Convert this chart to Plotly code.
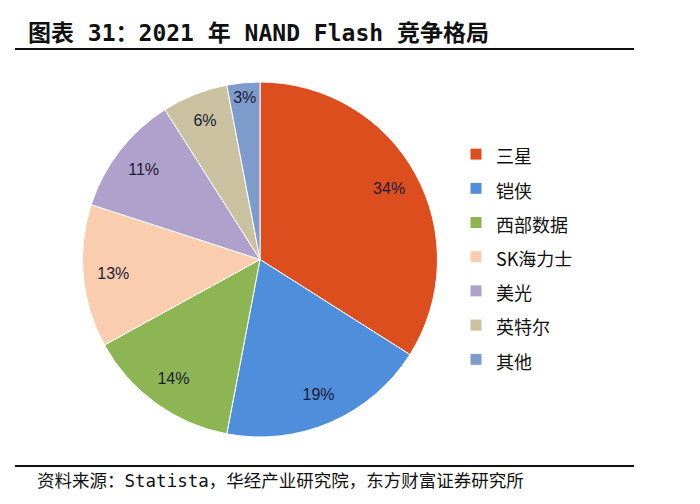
import plotly.graph_objects as go

labels = ["三星", "铠侠", "西部数据", "SK海力士", "美光", "英特尔", "其他"]
values = [34, 19, 14, 13, 11, 6, 3]
colors = ["#DD4E1E", "#4F8EDB", "#8DB554", "#F9CDAE", "#B0A1CC", "#C9C19F", "#7D9CCB"]

title_text = "图表 31：2021 年 NAND Flash 竞争格局"
source_text = "资料来源：Statista，华经产业研究院，东方财富证券研究所"

W, H = 700, 504
pie_domain = dict(x=[82 / W, 438 / W], y=[1 - 437 / H, 1 - 82 / H])

# legend labels: smaller visible text inside a taller legend line
legend_labels = ["<span style='font-size:18px'>%s</span>" % s for s in labels]

fig = go.Figure()
# coloured slices + legend
fig.add_trace(go.Pie(
    labels=legend_labels,
    values=values,
    sort=False,
    direction="clockwise",
    rotation=0,
    marker=dict(colors=colors, line=dict(color="white", width=1)),
    textinfo="none",
    domain=pie_domain,
    hoverinfo="label+percent",
))
# transparent ring carrying the percentage labels near the rim
fig.add_trace(go.Pie(
    labels=labels,
    values=values,
    sort=False,
    direction="clockwise",
    rotation=0,
    hole=0.66,
    marker=dict(colors=["rgba(0,0,0,0)"] * len(values), line=dict(width=0)),
    texttemplate="%{value}%",
    textposition="inside",
    insidetextorientation="horizontal",
    textfont=dict(family="Liberation Sans, Arial", size=16, color="#1B1B35"),
    domain=pie_domain,
    showlegend=False,
    hoverinfo="skip",
))

fig.update_layout(
    width=W, height=H,
    margin=dict(l=0, r=0, t=0, b=0),
    paper_bgcolor="white",
    plot_bgcolor="white",
    showlegend=True,
    uniformtext=dict(minsize=16, mode="show"),
    legend=dict(
        x=456 / W, y=1 - 132 / H, xanchor="left", yanchor="top",
        font=dict(family="Noto Sans CJK SC", size=24, color="#111111"),
        itemwidth=30,
    ),
    annotations=[
        dict(text="<b>" + title_text + "</b>", x=26 / W, y=1 - 33 / H, xref="paper", yref="paper",
             xanchor="left", yanchor="middle", showarrow=False,
             font=dict(family="DejaVu Sans Mono, Noto Sans CJK SC", size=23, color="#111111")),
        dict(text=source_text, x=35 / W, y=1 - 481 / H, xref="paper", yref="paper",
             xanchor="left", yanchor="middle", showarrow=False,
             font=dict(family="DejaVu Sans Mono, Noto Sans CJK SC", size=17.5, color="#111111")),
    ],
    shapes=[
        dict(type="line", xref="paper", yref="paper", x0=15 / W, x1=634 / W,
             y0=1 - 49 / H, y1=1 - 49 / H, line=dict(color="#111111", width=2)),
        dict(type="line", xref="paper", yref="paper", x0=15 / W, x1=634 / W,
             y0=1 - 466 / H, y1=1 - 466 / H, line=dict(color="#111111", width=2)),
    ],
)

fig.write_html("out.html", config={"displayModeBar": False},
               post_script="document.body.style.margin='0';")
